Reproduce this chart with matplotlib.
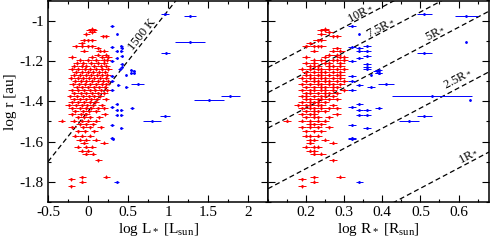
import numpy as np
import matplotlib
matplotlib.use("Agg")
import matplotlib.pyplot as plt
from matplotlib.ticker import MultipleLocator, FuncFormatter

plt.rcParams['font.family'] = ['Liberation Serif', 'DejaVu Serif']
plt.rcParams['mathtext.fontset'] = 'custom'
plt.rcParams['mathtext.rm'] = 'Liberation Serif'
plt.rcParams['mathtext.it'] = 'Liberation Serif:italic'
plt.rcParams['axes.unicode_minus'] = False

# ---------------- data ----------------
# red stars: log r [au], log L* [Lsun], log R* [Rsun]
red_logr = [-1.040, -1.047, -1.047, -1.058, -1.066, -1.078, -1.078,
            -1.098, -1.098, -1.098, -1.112,
            -1.128, -1.128, -1.128, -1.128, -1.137,
            -1.150, -1.150, -1.150, -1.168, -1.168,
            -1.180, -1.180, -1.180, -1.180,
            -1.195, -1.195, -1.195, -1.195, -1.195,
            -1.210, -1.210, -1.210, -1.210, -1.210,
            -1.225, -1.225, -1.225, -1.225, -1.225, -1.225,
            -1.240, -1.240, -1.240, -1.240, -1.240, -1.240, -1.240,
            -1.255, -1.255, -1.255, -1.255, -1.255, -1.255,
            -1.270, -1.270, -1.270, -1.270, -1.270, -1.270, -1.270,
            -1.285, -1.285, -1.285, -1.285, -1.285, -1.285, -1.285,
            -1.300, -1.300, -1.300, -1.300, -1.300, -1.300, -1.300,
            -1.315, -1.315, -1.315, -1.315, -1.315, -1.315, -1.315,
            -1.330, -1.330, -1.330, -1.330, -1.330, -1.330,
            -1.345, -1.345, -1.345, -1.345, -1.345, -1.345, -1.345,
            -1.360, -1.360, -1.360, -1.360, -1.360, -1.360,
            -1.375, -1.375, -1.375, -1.375, -1.375, -1.375,
            -1.390, -1.390, -1.390, -1.390, -1.390, -1.390,
            -1.405, -1.405, -1.405, -1.405, -1.405,
            -1.420, -1.420, -1.420, -1.420, -1.420, -1.420,
            -1.435, -1.435, -1.435, -1.435, -1.435, -1.435,
            -1.450, -1.450, -1.450, -1.450,
            -1.465, -1.465, -1.465, -1.465,
            -1.480, -1.480, -1.480, -1.480,
            -1.496, -1.496, -1.496, -1.496, -1.496,
            -1.515, -1.515, -1.515,
            -1.530, -1.530, -1.530, -1.530,
            -1.550, -1.550, -1.550,
            -1.570, -1.570, -1.570,
            -1.590, -1.590, -1.590,
            -1.605, -1.605,
            -1.625, -1.625, -1.625,
            -1.645, -1.645,
            -1.660, -1.660,
            -1.694, -1.774, -1.777, -1.787, -1.799, -1.823]
red_logL = [0.05, 0.02, 0.07, 0.05, -0.02, 0.19, 0.22,
            -0.05, 0.00, 0.05, -0.08,
            -0.15, -0.07, 0.00, 0.05, 0.12,
            0.15, 0.20, -0.05, 0.12, 0.22,
            -0.20, 0.18, 0.25, 0.05,
            -0.10, 0.00, 0.10, 0.20, 0.24,
            -0.14, -0.06, 0.04, 0.12, 0.20,
            -0.17, -0.08, -0.02, 0.08, 0.16, 0.23,
            -0.20, -0.12, -0.04, 0.03, 0.10, 0.18, 0.25,
            -0.15, -0.08, 0.00, 0.06, 0.14, 0.21,
            -0.18, -0.10, -0.03, 0.04, 0.11, 0.17, 0.24,
            -0.21, -0.13, -0.06, 0.01, 0.08, 0.15, 0.22,
            -0.16, -0.09, -0.02, 0.05, 0.12, 0.19, 0.25,
            -0.19, -0.11, -0.04, 0.03, 0.10, 0.17, 0.23,
            -0.14, -0.07, 0.00, 0.07, 0.14, 0.21,
            -0.20, -0.12, -0.05, 0.02, 0.09, 0.16, 0.24,
            -0.17, -0.09, -0.02, 0.05, 0.12, 0.20,
            -0.22, -0.14, -0.06, 0.01, 0.08, 0.15,
            -0.18, -0.10, -0.03, 0.04, 0.11, 0.22,
            -0.20, -0.12, -0.05, 0.02, 0.09,
            -0.24, -0.15, -0.08, -0.01, 0.06, 0.17,
            -0.20, -0.10, -0.03, 0.04, 0.13, 0.20,
            -0.16, -0.06, 0.01, 0.10,
            -0.20, -0.09, -0.02, 0.21,
            -0.12, -0.05, 0.02, 0.14,
            -0.33, -0.18, -0.08, 0.00, 0.10,
            -0.10, -0.03, 0.06,
            -0.20, -0.06, 0.02, 0.16,
            -0.12, -0.04, 0.08,
            -0.16, -0.07, 0.03,
            -0.10, -0.02, 0.10,
            -0.05, 0.20,
            -0.13, -0.02, 0.05,
            -0.08, 0.00,
            -0.03, 0.06,
            0.13, 0.23, -0.07, -0.21, -0.07, -0.21]
red_logR = [0.25, 0.24, 0.25, 0.26, 0.24, 0.27, 0.28,
            0.23, 0.24, 0.23, 0.21,
            0.20, 0.22, 0.23, 0.24, 0.28,
            0.27, 0.29, 0.22, 0.26, 0.28,
            0.20, 0.29, 0.30, 0.25,
            0.22, 0.24, 0.27, 0.28, 0.30,
            0.20, 0.22, 0.25, 0.26, 0.29,
            0.21, 0.22, 0.23, 0.26, 0.27, 0.29,
            0.19, 0.21, 0.23, 0.24, 0.26, 0.28, 0.30,
            0.20, 0.22, 0.24, 0.25, 0.27, 0.29,
            0.20, 0.21, 0.23, 0.24, 0.26, 0.28, 0.29,
            0.19, 0.21, 0.22, 0.24, 0.25, 0.27, 0.29,
            0.20, 0.22, 0.23, 0.25, 0.26, 0.28, 0.30,
            0.19, 0.21, 0.23, 0.24, 0.26, 0.27, 0.29,
            0.20, 0.22, 0.24, 0.25, 0.27, 0.28,
            0.19, 0.21, 0.22, 0.24, 0.25, 0.27, 0.30,
            0.20, 0.21, 0.23, 0.25, 0.26, 0.28,
            0.19, 0.20, 0.22, 0.24, 0.25, 0.27,
            0.20, 0.21, 0.23, 0.24, 0.26, 0.28,
            0.19, 0.21, 0.22, 0.23, 0.25,
            0.18, 0.20, 0.21, 0.23, 0.24, 0.27,
            0.19, 0.21, 0.22, 0.24, 0.26, 0.28,
            0.20, 0.22, 0.23, 0.25,
            0.19, 0.21, 0.22, 0.28,
            0.20, 0.22, 0.23, 0.26,
            0.15, 0.19, 0.21, 0.23, 0.25,
            0.21, 0.22, 0.24,
            0.19, 0.21, 0.23, 0.26,
            0.20, 0.22, 0.24,
            0.20, 0.21, 0.23,
            0.21, 0.22, 0.25,
            0.21, 0.27,
            0.20, 0.22, 0.23,
            0.21, 0.22,
            0.22, 0.24,
            0.27, 0.29, 0.22, 0.19, 0.22, 0.19]
red_Lerr = 0.045
red_Rerr = 0.011
red_rerr = 0.008

# blue stars
blue_logr = [-1.026, -1.066, -0.967, -0.975, -1.104, -1.162, -1.124, -1.129,
             -1.135, -1.149, -1.152, -1.175, -1.187, -1.200, -1.215, -1.228,
             -1.240, -1.245, -1.250, -1.258, -1.262, -1.270, -1.275, -1.300,
             -1.316, -1.319, -1.330, -1.345, -1.375, -1.395, -1.416, -1.430,
             -1.435, -1.443, -1.445, -1.470, -1.470, -1.473, -1.496, -1.519,
             -1.534, -1.580, -1.585, -1.800]
blue_logL = [0.30, 0.365, 0.965, 1.275, 1.275, 0.97, 0.415, 0.30,
             0.42, 0.36, 0.415, 0.42, 0.36, 0.30, 0.42, 0.42,
             0.40, 0.54, 0.57, 0.54, 0.57, 0.48, 0.30, 0.30,
             0.62, 0.38, 0.48, 0.30, 1.78, 1.51, 0.36, 0.30,
             0.55, 0.415, 0.36, 0.36, 0.415, 0.965, 0.80, 0.30,
             0.415, 0.30, 0.31, 0.36]
blue_Lerr = [0.03, 0.0, 0.05, 0.08, 0.19, 0.06, 0.02, 0.02,
             0.02, 0.02, 0.02, 0.02, 0.02, 0.02, 0.02, 0.02,
             0.02, 0.02, 0.02, 0.02, 0.02, 0.0, 0.02, 0.02,
             0.08, 0.02, 0.02, 0.02, 0.12, 0.19, 0.02, 0.02,
             0.02, 0.02, 0.02, 0.02, 0.02, 0.06, 0.11, 0.02,
             0.02, 0.02, 0.02, 0.03]
blue_logR = [0.32, 0.34, 0.51, 0.62, 0.62, 0.51, 0.36, 0.32,
             0.34, 0.34, 0.36, 0.36, 0.34, 0.32, 0.36, 0.36,
             0.36, 0.39, 0.385, 0.39, 0.39, 0.37, 0.32, 0.32,
             0.41, 0.34, 0.37, 0.32, 0.53, 0.63, 0.34, 0.32,
             0.39, 0.36, 0.34, 0.34, 0.36, 0.51, 0.47, 0.32,
             0.36, 0.32, 0.32, 0.34]
blue_Rerr = [0.01, 0.0, 0.02, 0.03, 0.0, 0.02, 0.01, 0.01,
             0.01, 0.01, 0.01, 0.01, 0.01, 0.01, 0.01, 0.01,
             0.01, 0.01, 0.01, 0.01, 0.01, 0.0, 0.01, 0.01,
             0.02, 0.01, 0.01, 0.01, 0.105, 0.0, 0.01, 0.01,
             0.01, 0.01, 0.01, 0.01, 0.01, 0.02, 0.025, 0.01,
             0.01, 0.01, 0.01, 0.01]
blue_rerr = [0.005] * len(blue_logr)

# reference lines
T_label = "1500 K"
T_slope, T_icpt = 0.5, -1.45
radii = [10, 7.5, 5, 2.5, 1]
radii_labels = ["10R$_*$", "7.5R$_*$", "5R$_*$", "2.5R$_*$", "1R$_*$"]
log_rsun_au = -2.332

xlimL = (-0.5, 2.25)
xlimR = (0.10, 0.68)
ylim = (-1.9, -0.9)

RED = '#ff0000'
BLUE = '#0000ff'

# ---------------- figure ----------------
W, H = 491, 240
fig = plt.figure(figsize=(W / 100, H / 100), dpi=100)
axL = fig.add_axes([48 / W, 38 / H, 220 / W, 201.5 / H])
axR = fig.add_axes([268 / W, 38 / H, 221 / W, 201.5 / H])

fmt = FuncFormatter(lambda v, p: '%g' % round(v, 3))

for ax in (axL, axR):
    ax.set_ylim(*ylim)
    ax.yaxis.set_major_locator(MultipleLocator(0.2))
    ax.yaxis.set_minor_locator(MultipleLocator(0.1))
    ax.tick_params(which='both', direction='in', top=True, right=True,
                   labelsize=11, pad=3)
    ax.tick_params(which='major', length=5, width=0.8)
    ax.tick_params(which='minor', length=2.5, width=0.8)
    for s in ax.spines.values():
        s.set_linewidth(1.1)
    ax.xaxis.set_major_formatter(fmt)
    ax.yaxis.set_major_formatter(fmt)

axL.set_xlim(*xlimL)
axL.xaxis.set_major_locator(MultipleLocator(0.5))
axL.xaxis.set_minor_locator(MultipleLocator(0.25))
axR.set_xlim(*xlimR)
axR.xaxis.set_major_locator(MultipleLocator(0.1))
axR.xaxis.set_minor_locator(MultipleLocator(0.05))
axR.set_xticks([0.2, 0.3, 0.4, 0.5, 0.6])
axR.tick_params(labelleft=False)

# left panel
xx = np.array(xlimL)
axL.plot(xx, T_slope * xx + T_icpt, color='black', lw=0.9,
         dashes=(4, 2.5), zorder=1)
axL.errorbar(red_logL, red_logr, xerr=red_Lerr, yerr=red_rerr, fmt='o',
             ms=2.0, color=RED, ecolor=RED, elinewidth=0.7, capsize=0,
             mew=0, zorder=2)
axL.errorbar(blue_logL, blue_logr, xerr=blue_Lerr, yerr=blue_rerr, fmt='o',
             ms=2.0, color=BLUE, ecolor=BLUE, elinewidth=0.7, capsize=0,
             mew=0, zorder=3)

# right panel
xr = np.array(xlimR)
for n in radii:
    axR.plot(xr, xr + np.log10(n) + log_rsun_au, color='black', lw=0.9,
             dashes=(4, 2.5), zorder=1)
axR.errorbar(red_logR, red_logr, xerr=red_Rerr, yerr=red_rerr, fmt='o',
             ms=2.0, color=RED, ecolor=RED, elinewidth=0.7, capsize=0,
             mew=0, zorder=2)
axR.errorbar(blue_logR, blue_logr, xerr=blue_Rerr, yerr=blue_rerr, fmt='o',
             ms=2.0, color=BLUE, ecolor=BLUE, elinewidth=0.7, capsize=0,
             mew=0, zorder=3)

# labels along lines
def angle(ax, slope):
    p0 = ax.transData.transform((0, 0))
    p1 = ax.transData.transform((1, slope))
    return np.degrees(np.arctan2(p1[1] - p0[1], p1[0] - p0[0]))

axL.text(0.68, -1.071, T_label, rotation=angle(axL, T_slope),
         ha='center', va='center', fontsize=9, rotation_mode='anchor')

label_pos = [(0.342, -0.963), (0.394, -1.033), (0.540, -1.058),
             (0.597, -1.286), (0.626, -1.670)]
angR = angle(axR, 1.0)
for (lx, ly), lab in zip(label_pos, radii_labels):
    axR.text(lx, ly, lab, rotation=angR, ha='center', va='center',
             fontsize=9, rotation_mode='anchor')

axL.set_xlabel("log L$_*$ [L$_{\\mathrm{sun}}$]", fontsize=11, labelpad=1)
axR.set_xlabel("log R$_*$ [R$_{\\mathrm{sun}}$]", fontsize=11, labelpad=1)
axL.set_ylabel("log r [au]", fontsize=11, labelpad=2)

fig.savefig("out.png", dpi=100)
